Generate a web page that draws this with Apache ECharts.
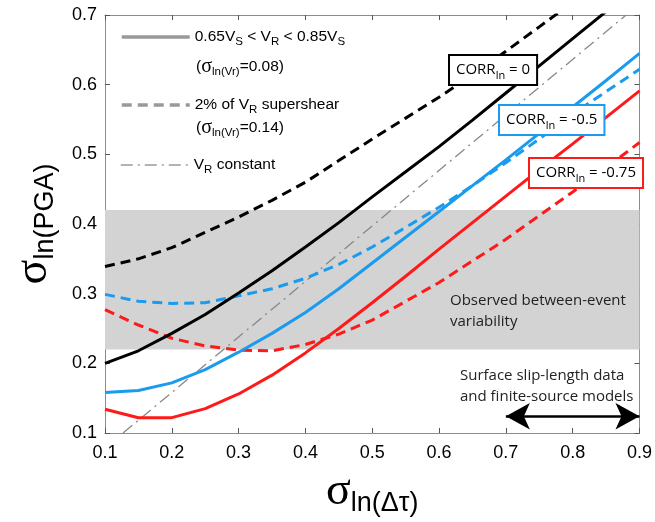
<!DOCTYPE html>
<html>
<head>
<meta charset="utf-8">
<script src="https://cdn.jsdelivr.net/npm/echarts@6/dist/echarts.min.js"></script>
<style>
  html, body { margin: 0; padding: 0; background: #fff; }
  #chart { width: 655px; height: 522px; }
</style>
</head>
<body>
<div id="chart"></div>
<script>
  // sigma ln(delta tau) values, shared by every curve
  const xs = [0.1, 0.15, 0.2, 0.25, 0.3, 0.35, 0.4, 0.45, 0.5, 0.55, 0.6, 0.65, 0.7, 0.75, 0.8, 0.85, 0.9];

  // CORR = 0
  const blackSolid = [0.200, 0.218, 0.243, 0.270, 0.301, 0.333, 0.367, 0.402, 0.439, 0.475, 0.511, 0.549, 0.588, 0.627, 0.666, 0.705, 0.744];
  const blackDashed = [0.339, 0.350, 0.366, 0.388, 0.410, 0.434, 0.460, 0.491, 0.522, 0.552, 0.582, 0.614, 0.648, 0.683, 0.718, 0.753, 0.788];
  // CORR = -0.5
  const blueSolid = [0.158, 0.161, 0.172, 0.191, 0.216, 0.243, 0.273, 0.307, 0.344, 0.381, 0.418, 0.455, 0.492, 0.530, 0.568, 0.606, 0.645];
  const blueDashed = [0.299, 0.289, 0.286, 0.287, 0.297, 0.307, 0.322, 0.342, 0.367, 0.395, 0.424, 0.455, 0.488, 0.522, 0.558, 0.590, 0.622];
  // CORR = -0.75
  const redSolid = [0.134, 0.122, 0.122, 0.135, 0.156, 0.183, 0.215, 0.250, 0.287, 0.325, 0.364, 0.402, 0.440, 0.478, 0.515, 0.553, 0.591];
  const redDashed = [0.277, 0.255, 0.236, 0.225, 0.219, 0.218, 0.227, 0.242, 0.262, 0.289, 0.316, 0.347, 0.378, 0.412, 0.446, 0.481, 0.517];

  // V_R constant
  const vrX = [0.127, 0.88];
  const vrY = [0.1, 0.7];

  // observed between-event variability band and the slip-length arrow
  const band = [0.22, 0.42];
  const arrowX = [0.7, 0.9];
  const arrowY = 0.124;

  const BLUE = '#1a9bef';
  const RED = '#ff1a1a';
  const sans = 'Liberation Sans, Arial, sans-serif';
  const myriad = 'Open Sans, sans-serif';

  const pairs = arr => xs.map((x, i) => [x, arr[i]]);

  const legRich = {
    t: { fontFamily: sans, fontSize: 15.5, color: '#000', lineHeight: 22, verticalAlign: 'middle' },
    s: { fontFamily: sans, fontSize: 11.5, color: '#000', lineHeight: 22, verticalAlign: 'bottom' },
    g: { fontFamily: 'Liberation Serif, serif', fontSize: 20, color: '#000', lineHeight: 22, verticalAlign: 'middle' }
  };
  const boxRich = {
    t: { fontFamily: myriad, fontSize: 15, color: '#000', lineHeight: 22, verticalAlign: 'middle' },
    s: { fontFamily: myriad, fontSize: 11, color: '#000', lineHeight: 22, verticalAlign: 'bottom' }
  };
  const legendText = {
    'vr1': '{t|0.65V}{s|S}{t| < V}{s|R}{t| < 0.85V}{s|S}',
    'vr2': '{t|2% of V}{s|R}{t| supershear}',
    'vr3': '{t|V}{s|R}{t| constant}'
  };

  function makeLegend (name, top, width, type) {
    return {
      data: [name],
      orient: 'vertical',
      left: 120,
      top: top,
      padding: 0,
      itemWidth: 68,
      itemHeight: 14,
      selectedMode: false,
      itemStyle: { opacity: 0 },
      lineStyle: { color: '#999', width: width, type: type },
      formatter: n => legendText[n],
      textStyle: { rich: legRich }
    };
  }

  function box (left, top, label, color) {
    return {
      type: 'text',
      left: left,
      top: top,
      z: 100,
      style: {
        text: '{t|CORR}{s|ln}{t| = ' + label + '}',
        rich: boxRich,
        backgroundColor: '#fff',
        borderColor: color,
        borderWidth: 2,
        padding: [3, 6, 3, 6]
      }
    };
  }

  const chart = echarts.init(document.getElementById('chart'));

  const axisGray = '#8c8c8c';
  const baseX = {
    type: 'value', min: 0.1, max: 0.9, interval: 0.1,
    axisLine: { lineStyle: { color: axisGray, width: 1 } },
    axisTick: { inside: true, length: 5, lineStyle: { color: '#555' } },
    splitLine: { show: false }
  };
  const baseY = {
    type: 'value', min: 0.1, max: 0.7, interval: 0.1,
    axisLine: { lineStyle: { color: axisGray, width: 1 } },
    axisTick: { inside: true, length: 5, lineStyle: { color: '#555' } },
    splitLine: { show: false }
  };

  const option = {
    animation: false,
    grid: { left: 105, right: 13, top: 15, bottom: 86 },
    xAxis: [
      Object.assign({}, baseX, {
        position: 'bottom',
        axisLabel: { color: '#000', fontFamily: sans, fontSize: 18, margin: 11, formatter: v => v.toFixed(1) },
        name: '{g|σ}{s|ln(Δτ)}',
        nameLocation: 'middle',
        nameGap: 34,
        nameTextStyle: {
          rich: {
            g: { fontFamily: 'Liberation Serif, serif', fontSize: 46, color: '#000', lineHeight: 50, verticalAlign: 'middle' },
            s: { fontFamily: sans, fontSize: 27, color: '#000', lineHeight: 50, verticalAlign: 'bottom' }
          }
        }
      }),
      Object.assign({}, baseX, { position: 'top', axisLabel: { show: false } })
    ],
    yAxis: [
      Object.assign({}, baseY, {
        position: 'left',
        axisLabel: { color: '#000', fontFamily: sans, fontSize: 18, margin: 8, formatter: v => v.toFixed(1) },
        name: '{g|σ}{s|ln(PGA)}',
        nameLocation: 'middle',
        nameRotate: 90,
        nameGap: 46,
        nameTextStyle: {
          rich: {
            g: { fontFamily: 'Liberation Serif, serif', fontSize: 46, color: '#000', lineHeight: 50, verticalAlign: 'middle' },
            s: { fontFamily: sans, fontSize: 27, color: '#000', lineHeight: 50, verticalAlign: 'bottom' }
          }
        }
      }),
      Object.assign({}, baseY, { position: 'right', axisLabel: { show: false } })
    ],
    legend: [
      makeLegend('vr1', 29, 3.5, 'solid'),
      makeLegend('vr2', 97, 3.5, [10, 6]),
      makeLegend('vr3', 157, 1.5, [12, 5, 2, 5])
    ],
    graphic: [
      { type: 'text', left: 196, top: 57, style: { text: '{t|(}{g|σ}{s|ln(Vr)}{t|=0.08)}', rich: legRich } },
      { type: 'text', left: 196, top: 118, style: { text: '{t|(}{g|σ}{s|ln(Vr)}{t|=0.14)}', rich: legRich } },
      box(448, 54, '0', '#000'),
      box(498, 104, '-0.5', BLUE),
      box(528, 157, '-0.75', RED),
      {
        type: 'text', left: 450, top: 290, z: 50,
        style: { text: 'Observed between-event\nvariability', fontFamily: myriad, fontSize: 15, lineHeight: 21, fill: '#222' }
      },
      {
        type: 'text', left: 460, top: 365, z: 50,
        style: { text: 'Surface slip-length data\nand finite-source models', fontFamily: myriad, fontSize: 15, lineHeight: 21, fill: '#222' }
      }
    ],
    series: [
      {
        name: 'band', type: 'line', data: [], silent: true, z: 1,
        markArea: {
          silent: true,
          itemStyle: { color: '#d3d3d3' },
          data: [[{ yAxis: band[0] }, { yAxis: band[1] }]]
        },
        markLine: {
          silent: true,
          symbol: ['arrow', 'arrow'],
          symbolSize: [20, 24],
          label: { show: false },
          lineStyle: { color: '#000', width: 2.5, type: 'solid' },
          data: [[{ coord: [arrowX[0], arrowY] }, { coord: [arrowX[1], arrowY] }]]
        }
      },
      { name: 'vr1', type: 'line', data: [], symbol: 'none', lineStyle: { color: '#999', width: 3.5, type: 'solid' }, itemStyle: { color: '#999' } },
      { name: 'vr2', type: 'line', data: [], symbol: 'none', lineStyle: { color: '#999', width: 3.5, type: [10, 6] }, itemStyle: { color: '#999' } },
      { name: 'vr3', type: 'line', data: [], symbol: 'none', lineStyle: { color: '#999', width: 1.5, type: [12, 5, 2, 5] }, itemStyle: { color: '#999' } },
      {
        name: 'V_R constant', type: 'line', data: vrX.map((x, i) => [x, vrY[i]]),
        symbol: 'none', z: 3, lineStyle: { color: '#888', width: 1.3, type: [12, 5, 2, 5] }
      },
      { name: 'red solid', type: 'line', data: pairs(redSolid), symbol: 'none', z: 4, lineStyle: { color: RED, width: 3 } },
      { name: 'red dashed', type: 'line', data: pairs(redDashed), symbol: 'none', z: 4, lineStyle: { color: RED, width: 3, type: [10, 6] } },
      { name: 'blue solid', type: 'line', data: pairs(blueSolid), symbol: 'none', z: 4, lineStyle: { color: BLUE, width: 3 } },
      { name: 'blue dashed', type: 'line', data: pairs(blueDashed), symbol: 'none', z: 4, lineStyle: { color: BLUE, width: 3, type: [10, 6] } },
      { name: 'black solid', type: 'line', data: pairs(blackSolid), symbol: 'none', z: 4, lineStyle: { color: '#000', width: 3 } },
      { name: 'black dashed', type: 'line', data: pairs(blackDashed), symbol: 'none', z: 4, lineStyle: { color: '#000', width: 3, type: [10, 6] } }
    ]
  };

  chart.setOption(option);
  window.addEventListener('resize', function () {
    chart.resize();
  });
</script>
</body>
</html>
